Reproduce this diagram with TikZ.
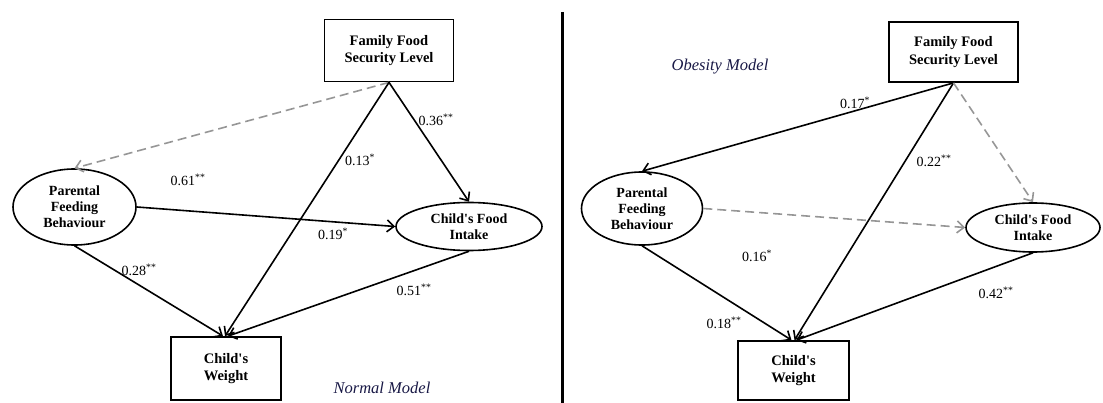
\documentclass[tikz,border=0pt]{standalone}
\usepackage{fontspec}
\setmainfont{Liberation Serif}
\usetikzlibrary{arrows.meta,shapes.geometric}
\definecolor{dashgray}{RGB}{150,150,150}
\definecolor{modelblue}{RGB}{25,25,70}
\newcommand\apos{\textquotesingle}
\begin{document}
\begin{tikzpicture}[x=1pt,y=-1pt,
  box/.style={draw,line width=1.8pt,minimum width=129pt,minimum height=62pt,inner sep=0pt,align=center,font=\fontsize{14.5}{17.5}\selectfont\bfseries},
  ell/.style={draw,ellipse,line width=1.6pt,inner sep=0pt,align=center,font=\fontsize{14}{16}\selectfont\bfseries},
  arr/.style={line width=1.6pt,-{Straight Barb[length=7pt,width=12pt]}},
  darr/.style={arr,draw=dashgray,dash pattern=on 9pt off 5pt},
  lab/.style={font=\fontsize{14}{16}\selectfont},
  model/.style={font=\fontsize{16.5}{20}\selectfont\itshape,text=modelblue}]
\useasboundingbox (0,0) rectangle (1103,403);
% left panel
\node[box] (ffsL) at (389,50.5) {Family Food\\Security Level};
\node[ell,minimum width=123pt,minimum height=76pt] (pfbL) at (74.5,207) {Parental\\Feeding\\Behaviour};
\node[ell,minimum width=146pt,minimum height=48pt] (cfiL) at (469,226.5) {Child\apos s Food\\Intake};
\node[box,minimum width=110pt,minimum height=63pt] (cwL) at (226,368.5) {Child\apos s\\Weight};
\draw[darr] (ffsL.south) -- (pfbL.north);
\draw[arr] (ffsL.south) -- (cfiL.north);
\draw[arr] (ffsL.south) -- ([xshift=-1pt]cwL.north);
\draw[arr] (pfbL.east) -- (cfiL.west);
\draw[arr] (pfbL.south) -- ([xshift=-3pt]cwL.north);
\draw[arr] (cfiL.south) -- ([xshift=2pt]cwL.north);
\node[lab] (l036) at (436,120) {0.36\textsuperscript{**}};
\node[lab] (l013) at (360,160) {0.13\textsuperscript{*}};
\node[lab] (l061) at (188,180) {0.61\textsuperscript{**}};
\node[lab] (l019) at (333,234) {0.19\textsuperscript{*}};
\node[lab] (l028) at (139,270) {0.28\textsuperscript{**}};
\node[lab] (l051) at (414,290) {0.51\textsuperscript{**}};
\node[model] (nm) at (382,388) {Normal Model};
% divider
\draw[line width=3pt] (562,12) -- (562,403);
% right panel
\node[box,minimum height=60pt] (ffsR) at (953.5,52) {Family Food\\Security Level};
\node[ell,minimum width=121pt,minimum height=73pt] (pfbR) at (642,208.5) {Parental\\Feeding\\Behaviour};
\node[ell,minimum width=134pt,minimum height=49pt] (cfiR) at (1033,227.5) {Child\apos s Food\\Intake};
\node[box,minimum width=111pt,minimum height=59pt] (cwR) at (793.5,370.5) {Child\apos s\\Weight};
\draw[arr] (ffsR.south) -- (pfbR.north);
\draw[arr] (ffsR.south) -- ([xshift=1pt]cwR.north);
\draw[darr] (ffsR.south) -- (cfiR.north);
\draw[darr] (pfbR.east) -- (cfiR.west);
\draw[arr] (pfbR.south) -- ([xshift=-2pt]cwR.north);
\draw[arr] (cfiR.south) -- ([xshift=3pt]cwR.north);
\node[model] (om) at (720,67) {Obesity Model};
\node[lab] (l017) at (855,103) {0.17\textsuperscript{*}};
\node[lab] (l022) at (934,161) {0.22\textsuperscript{**}};
\node[lab] (l016) at (757,256) {0.16\textsuperscript{*}};
\node[lab] (l018) at (724,323) {0.18\textsuperscript{**}};
\node[lab] (l042) at (996,293) {0.42\textsuperscript{**}};
\end{tikzpicture}
\end{document}
